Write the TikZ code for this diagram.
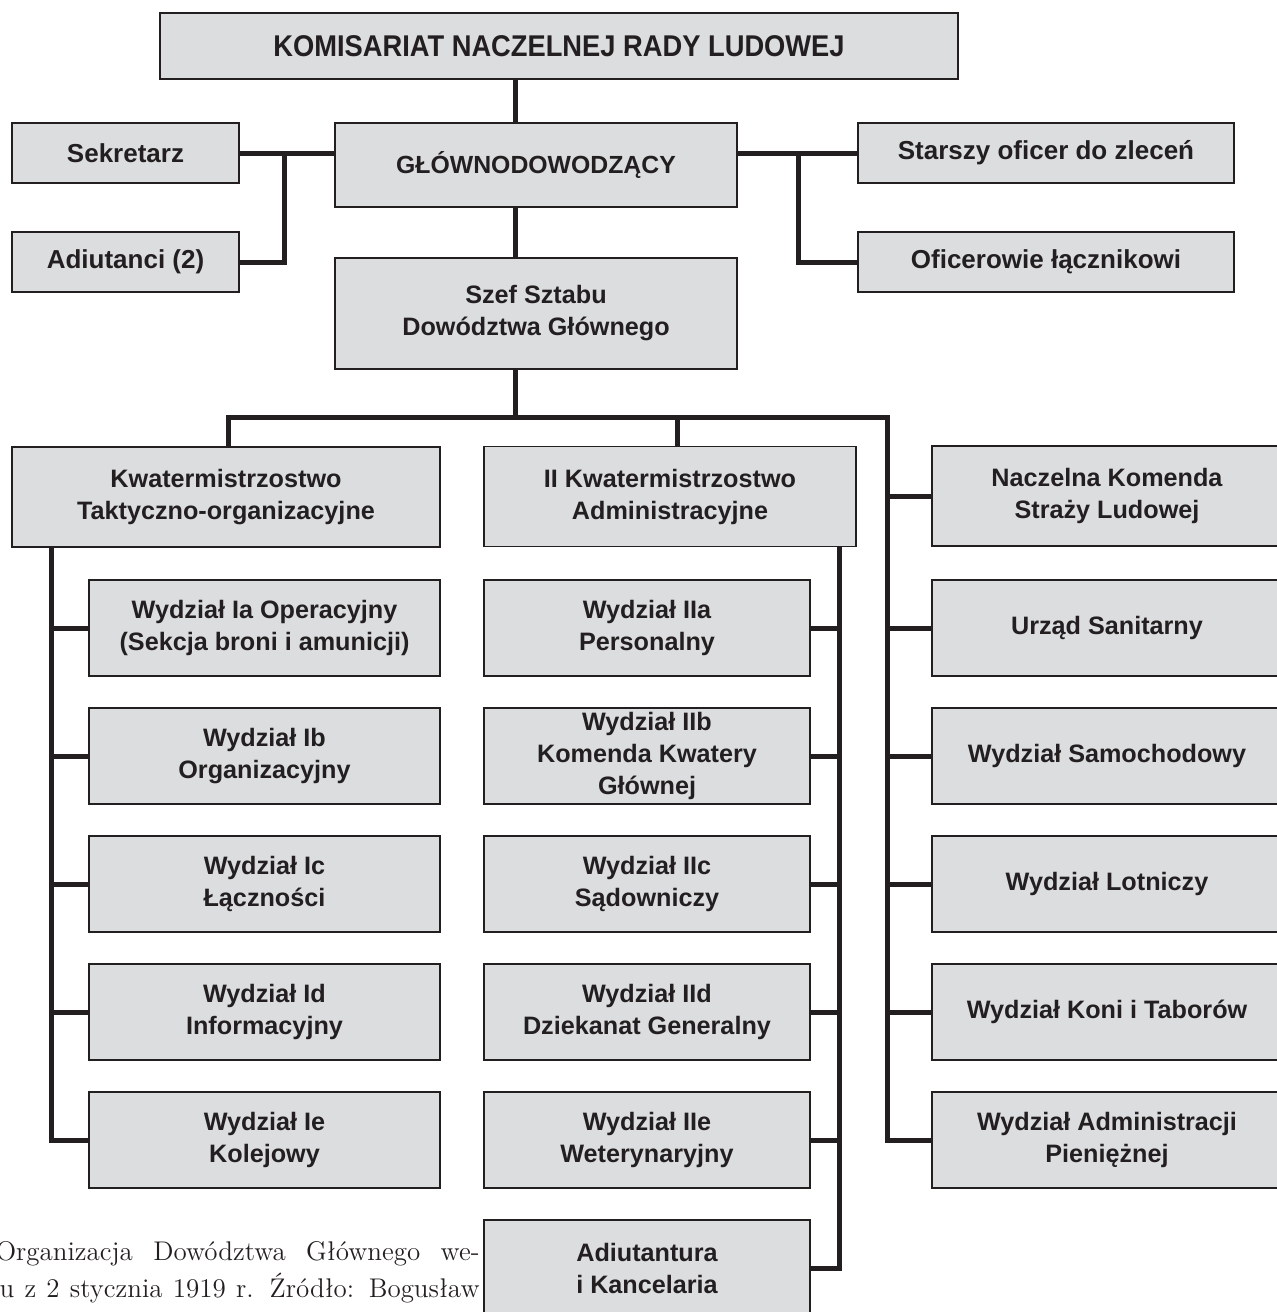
\documentclass[tikz,border=0pt]{standalone}
\usepackage{fontspec}
\usepackage{tikz}
\usetikzlibrary{positioning}
\newfontfamily\boxfont{Liberation Sans}
\newfontfamily\narrowfont{Liberation Sans}[FakeStretch=0.91]
\definecolor{ink}{HTML}{231F20}
\definecolor{boxgray}{HTML}{DCDDDF}
\tikzset{
    box/.style={rectangle,draw=ink,fill=boxgray,line width=0.9pt,inner sep=0pt,align=center,text=ink,
        font=\boxfont\bfseries\fontsize{12.6}{16}\selectfont},
    kombox/.style={box,minimum width=399pt,minimum height=33pt,font=\narrowfont\bfseries\fontsize{15}{18}\selectfont},
    sidebox/.style={box,minimum width=113.5pt,minimum height=30pt,font=\boxfont\bfseries\fontsize{13}{16}\selectfont},
    offbox/.style={box,minimum width=188pt,minimum height=30pt,font=\boxfont\bfseries\fontsize{13}{16}\selectfont},
    chiefbox/.style={box,minimum width=201pt},
    headbox/.style={box,minimum height=50pt},
    leftbox/.style={box,minimum width=175.5pt,minimum height=48pt},
    midbox/.style={box,minimum width=163pt,minimum height=48pt},
    rightbox/.style={box,minimum width=175pt,minimum height=48pt},
    link/.style={draw=ink,line width=2.5pt},
    notetext/.style={anchor=base east,inner sep=0pt,text=ink,font=\fontsize{13.5}{18}\selectfont},
}

\begin{document}
\begin{tikzpicture}[x=0.5pt,y=-0.5pt]
		\useasboundingbox (0,0) rectangle (1277,1312);
		\clip (0,0) rectangle (1277,1312);

		% top
		\node[kombox] (kom) at (559,46) {KOMISARIAT NACZELNEJ RADY LUDOWEJ};
		\node[chiefbox,minimum height=42pt,font=\boxfont\bfseries\fontsize{12.4}{16}\selectfont] (glo) at (536,165) {GŁÓWNODOWODZĄCY};
		\node[chiefbox,minimum height=55.5pt] (szef) at (536,313.5) {Szef Sztabu\\Dowództwa Głównego};
		\node[sidebox] (sek) at (125.5,153) {Sekretarz};
		\node[sidebox] (adj) at (125.5,262) {Adiutanci (2)};
		\node[offbox] (sta) at (1046,153) {Starszy oficer do zleceń};
		\node[offbox] (ofi) at (1046,262) {Oficerowie łącznikowi};

		% heads
		\node[headbox,minimum width=214pt] (kwa) at (226,497) {Kwatermistrzostwo\\Taktyczno-organizacyjne};
		\node[headbox,minimum width=186pt] (kwb) at (670,496.5) {II Kwatermistrzostwo\\Administracyjne};
		\node[headbox,minimum width=175pt] (nkl) at (1107,496) {Naczelna Komenda\\Straży Ludowej};

		% left column
		\node[leftbox] (ia) at (264.5,628) {Wydział Ia Operacyjny\\(Sekcja broni i amunicji)};
		\node[leftbox] (ib) at (264.5,756) {Wydział Ib\\Organizacyjny};
		\node[leftbox] (ic) at (264.5,884) {Wydział Ic\\Łączności};
		\node[leftbox] (id) at (264.5,1012) {Wydział Id\\Informacyjny};
		\node[leftbox] (ie) at (264.5,1140) {Wydział Ie\\Kolejowy};

		% middle column
		\node[midbox] (iia) at (647,628) {Wydział IIa\\Personalny};
		\node[midbox] (iib) at (647,756) {Wydział IIb\\Komenda Kwatery\\Głównej};
		\node[midbox] (iic) at (647,884) {Wydział IIc\\Sądowniczy};
		\node[midbox] (iid) at (647,1012) {Wydział IId\\Dziekanat Generalny};
		\node[midbox] (iie) at (647,1140) {Wydział IIe\\Weterynaryjny};
		\node[midbox] (kanc) at (647,1268) {Adiutantura\\i Kancelaria};

		% right column
		\node[rightbox] (san) at (1107,628) {Urząd Sanitarny};
		\node[rightbox] (sam) at (1107,756) {Wydział Samochodowy};
		\node[rightbox] (lot) at (1107,884) {Wydział Lotniczy};
		\node[rightbox] (kon) at (1107,1012) {Wydział Koni i Taborów};
		\node[rightbox] (fin) at (1107,1140) {Wydział Administracji\\Pieniężnej};

		% note
		\node[notetext] (nota) at (480,1260) {\makebox[242pt][s]{Organizacja Dowództwa Głównego we-}};
		\node[notetext] (notb) at (480,1297) {\makebox[240pt][s]{u z 2 stycznia 1919 r. Źródło: Bogusław}};

		% junctions
		\coordinate (trunk) at (515,417);
		\coordinate (busl) at (228,417);
		\coordinate (busm) at (677,417);
		\coordinate (busr) at (887,417);
		\coordinate (sekj) at (284,0);
		\coordinate (staj) at (798,0);
		\coordinate (lcol) at (51,0);
		\coordinate (mcol) at (839,0);

		\draw[link] (kom.south -| trunk) -- (glo.north -| trunk);
		\draw[link] (glo.south -| trunk) -- (szef.north -| trunk);
		\draw[link] (szef.south -| trunk) -- (trunk);
		\draw[link] (glo.west |- sek.east) -- (sek.east);
		\draw[link] (sek.east -| sekj) |- (adj.east);
		\draw[link] (glo.east |- sta.west) -- (sta.west);
		\draw[link] (sta.west -| staj) |- (ofi.west);

		\draw[link] (busl |- kwa.north) -- (busl) -- (busr) |- (fin.west);
		\draw[link] (busm) -- (busm |- kwb.north);
		\draw[link] (busr |- nkl.west) -- (nkl.west);
		\draw[link] (busr |- san.west) -- (san.west);
		\draw[link] (busr |- sam.west) -- (sam.west);
		\draw[link] (busr |- lot.west) -- (lot.west);
		\draw[link] (busr |- kon.west) -- (kon.west);

		\draw[link] (kwa.south -| lcol) |- (ie.west);
		\draw[link] (ia.west -| lcol) -- (ia.west);
		\draw[link] (ib.west -| lcol) -- (ib.west);
		\draw[link] (ic.west -| lcol) -- (ic.west);
		\draw[link] (id.west -| lcol) -- (id.west);

		\draw[link] (kwb.south -| mcol) |- (kanc.east);
		\draw[link] (iia.east -| mcol) -- (iia.east);
		\draw[link] (iib.east -| mcol) -- (iib.east);
		\draw[link] (iic.east -| mcol) -- (iic.east);
		\draw[link] (iid.east -| mcol) -- (iid.east);
		\draw[link] (iie.east -| mcol) -- (iie.east);
	\end{tikzpicture}
\end{document}
